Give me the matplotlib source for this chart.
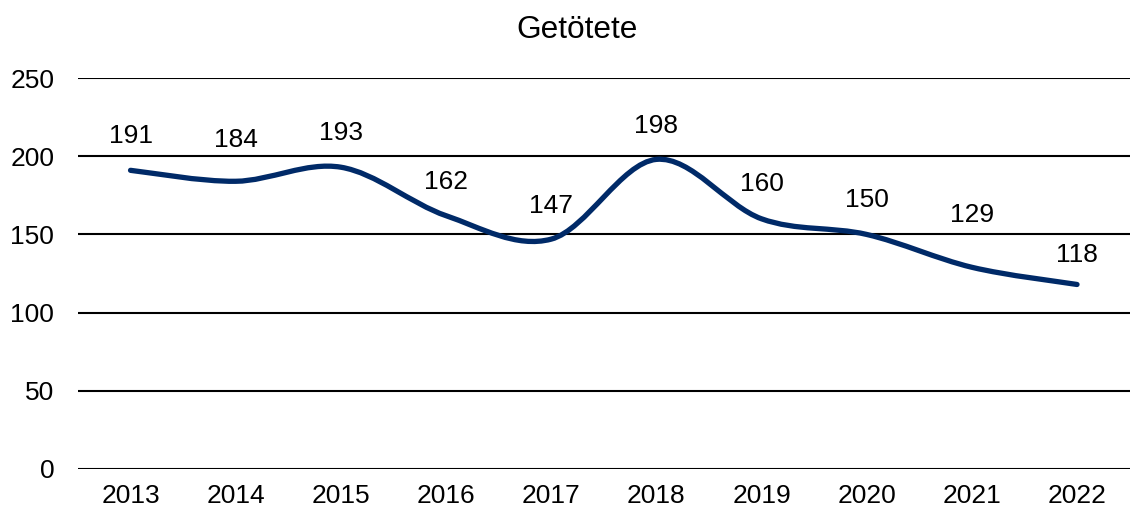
import matplotlib.pyplot as plt
import numpy as np
from matplotlib.path import Path
from matplotlib.patches import PathPatch

plt.rcParams['font.family'] = ['Liberation Sans', 'DejaVu Sans']

years = ['2013', '2014', '2015', '2016', '2017', '2018', '2019', '2020', '2021', '2022']
killed = [191, 184, 193, 162, 147, 198, 160, 150, 129, 118]
line_color = '#002A68'
# vertical offset of each data label above its point (points)
label_dy = [24.5, 29.5, 24.5, 24.5, 24, 24, 25, 24.5, 37.5, 21]

fig = plt.figure(figsize=(11.33, 5.13), dpi=100)
ax = fig.add_axes([0.0688, 0.0858, 0.9282, 0.762])

x = np.arange(len(years))
y = np.array(killed, dtype=float)

# smoothed line like Excel: cubic bezier segments (catmull-rom control points)
verts = [(x[0], y[0])]
codes = [Path.MOVETO]
n = len(x)
for i in range(n - 1):
    p0 = np.array([x[max(i - 1, 0)], y[max(i - 1, 0)]])
    p1 = np.array([x[i], y[i]])
    p2 = np.array([x[i + 1], y[i + 1]])
    p3 = np.array([x[min(i + 2, n - 1)], y[min(i + 2, n - 1)]])
    c1 = p1 + (p2 - p0) / 6
    c2 = p2 - (p3 - p1) / 6
    verts += [tuple(c1), tuple(c2), tuple(p2)]
    codes += [Path.CURVE4] * 3
patch = PathPatch(Path(verts, codes), facecolor='none', edgecolor=line_color,
                  lw=3.8, capstyle='round', joinstyle='round', zorder=3)
ax.add_patch(patch)

for xi, yi, dy in zip(x, killed, label_dy):
    ax.annotate(str(yi), (xi, yi), xytext=(0, dy), textcoords='offset points',
                ha='center', va='center', fontsize=19, color='black')

ax.set_xlim(-0.5, len(years) - 0.5)
ax.set_ylim(0, 250)
ax.set_yticks(range(0, 251, 50))
ax.set_xticks(x)
ax.set_xticklabels(years)
ax.tick_params(axis='both', length=0, labelsize=19, colors='black')
ax.tick_params(axis='y', pad=17)
ax.tick_params(axis='x', pad=11)
ax.yaxis.grid(True, color='black', lw=1.5)
ax.set_axisbelow(True)
for s in ax.spines.values():
    s.set_visible(False)

ax.set_title('Getötete', fontsize=22.8, pad=29, x=0.475)

fig.savefig('out.png', dpi=100)
